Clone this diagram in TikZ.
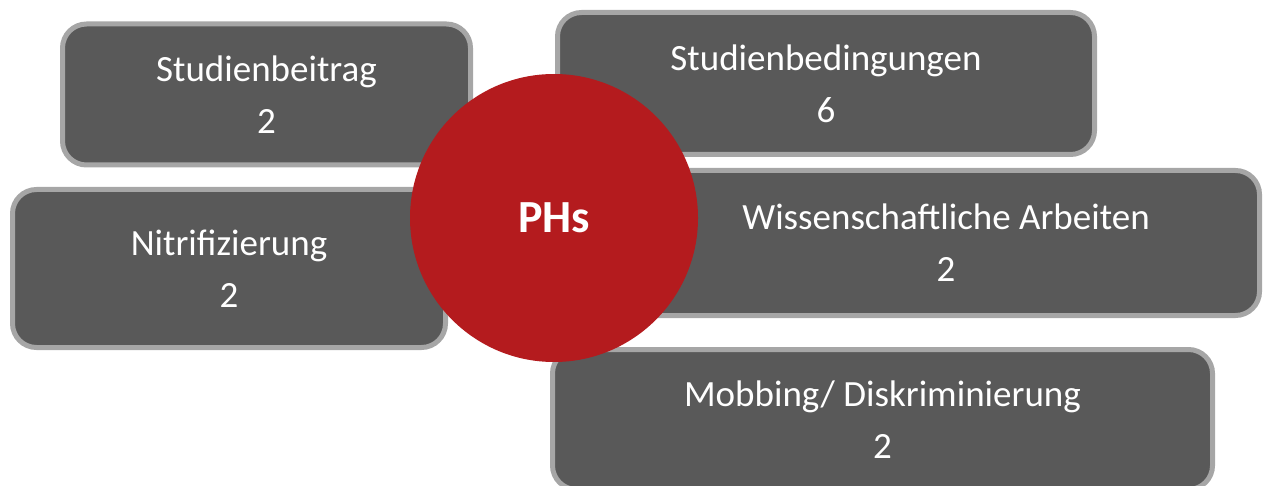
\documentclass[tikz,border=0pt]{standalone}
\usepackage{fontspec}
\setmainfont{Carlito}
\definecolor{boxfill}{HTML}{595959}
\definecolor{boxline}{HTML}{A6A6A6}
\definecolor{phred}{RGB}{180,27,30}
\begin{document}
\begin{tikzpicture}[x=1pt,y=-1pt,
  topic/.style={draw=boxline, line width=5pt, fill=boxfill, rounded corners=24pt,
    inner sep=0pt, outer sep=0pt, align=center, text=white,
    font=\fontsize{37}{52}\selectfont},
  hub/.style={circle, fill=phred, inner sep=0pt, minimum size=288pt, text=white,
    font=\bfseries\fontsize{46}{50}\selectfont}]
\useasboundingbox (0,0) rectangle (1263,486);
\clip (0,0) rectangle (1263,486);
\node[topic, minimum width=408pt, minimum height=141pt] (beitrag) at (266.5,94.5) {Studienbeitrag\\2};
\node[topic, minimum width=433pt, minimum height=158pt] (nitri) at (229,268.5) {Nitrifizierung\\2};
\node[topic, minimum width=537pt, minimum height=142pt] (bed) at (826,83.5) {Studienbedingungen\\6};
\node[topic, minimum width=627pt, minimum height=145pt] (wiss) at (946,243) {Wissenschaftliche Arbeiten\\2};
\node[topic, minimum width=660pt, minimum height=140pt] (mob) at (882.5,419.5) {Mobbing/ Diskriminierung\\2};
\node[hub] (phs) at (554,218) {PHs};
\end{tikzpicture}
\end{document}
